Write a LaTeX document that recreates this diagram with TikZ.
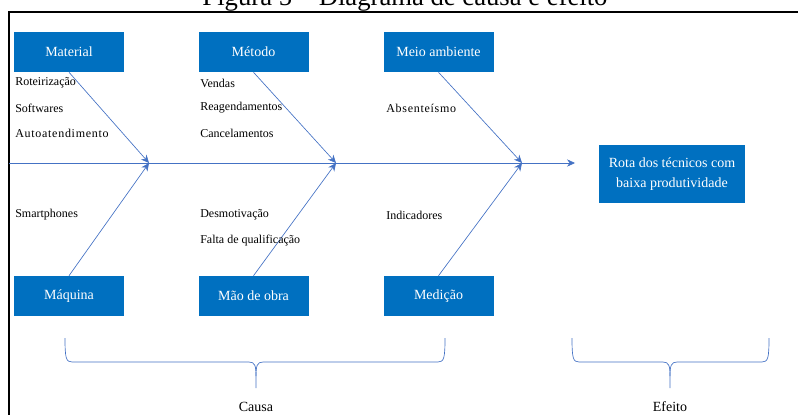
\documentclass[tikz,border=0pt]{standalone}
\usepackage{fontspec}
\setmainfont{Liberation Serif}
\usetikzlibrary{arrows.meta}
\definecolor{boxblue}{HTML}{0070C0}
\definecolor{lineblue}{HTML}{4472C4}

\begin{document}
\begin{tikzpicture}[x=0.75pt,y=-0.75pt,>={Stealth[length=6pt,width=5.5pt]},font=\fontsize{9}{11}\selectfont]
                \tikzstyle{causebox}=[rectangle,fill=boxblue,text=white,minimum width=82.5pt,minimum height=30pt,inner sep=0pt,font=\fontsize{10.5}{13}\selectfont]
                \tikzstyle{item}=[anchor=west,inner sep=0pt]
                \tikzstyle{bone}=[draw=lineblue,line width=0.5pt]

                \useasboundingbox (0,0) rectangle (798,414);
                \node[anchor=base,inner sep=0pt,font=\fontsize{20}{24}\selectfont] (title) at (405,5) {Figura 5 -- Diagrama de causa e efeito};
                \draw[line width=1.5pt] (8.5,11.5) rectangle (830,440);

                % causas
                \foreach \num/\x/\txt in {1/69/Material, 2/253.5/Método, 3/438.5/Meio ambiente}
                        \node[causebox] (T-\num) at (\x,52) {\txt};
                \foreach \num/\x/\txt in {1/69/Máquina, 2/253.5/Mão de obra, 3/438.5/Medição}
                        \node[causebox] (B-\num) at (\x,296) {\txt};

                    \node[causebox,minimum width=109.5pt,minimum height=43.5pt,align=center,font=\fontsize{10.5}{15}\selectfont] (E) at (672,174) {Rota dos técnicos com\\baixa produtividade};

                    \coordinate (S-0) at (9,163);
                    \coordinate (S-end) at (575,163);
                    \foreach \num/\x in {1/149, 2/336, 3/522}
                        \coordinate (J-\num) at (\x,163);

                    \draw[bone,->] (S-0) -- (S-end);
                    \foreach \num in {1,2,3}
                        {\draw[bone,->] (T-\num.south) -- (J-\num);
                         \draw[bone,->] (B-\num.north) -- (J-\num);}

                    % subcausas
                    \foreach \num/\y/\txt in {1/83/Roteirização, 2/108/Softwares, 3/133/{\addfontfeature{LetterSpace=6}Autoatendimento}}
                        \node[item] (mat-\num) at (15,\y) {\txt};
                    \foreach \num/\y/\txt in {1/83/Vendas, 2/108/Reagendamentos, 3/133/Cancelamentos}
                        \node[item] (met-\num) at (200,\y) {\txt};
                    \node[item] (amb-1) at (386,108) {\addfontfeature{LetterSpace=6}Absenteísmo};
                    \node[item] (maq-1) at (15,215) {Smartphones};
                    \node[item] (mao-1) at (200,215) {Desmotivação};
                    \node[item] (mao-2) at (200,241) {Falta de qualificação};
                    \node[item] (med-1) at (386,215) {Indicadores};

                    % chaves
                    \foreach \l/\m/\r in {65/256/445, 572/670/769}
                        {\draw[bone] (\l,338) .. controls (\l,358) and (\l+1,362) .. (\l+7,362) -- (\m-7,362) .. controls (\m-1,362) and (\m,366) .. (\m,376) -- (\m,388);
                         \draw[bone] (\r,338) .. controls (\r,358) and (\r-1,362) .. (\r-7,362) -- (\m+7,362) .. controls (\m+1,362) and (\m,366) .. (\m,376);}
                    \node[font=\fontsize{10.5}{13}\selectfont] (causa) at (256,407) {Causa};
                    \node[font=\fontsize{10.5}{13}\selectfont] (efeito) at (670,407) {Efeito};
            \end{tikzpicture}
\end{document}
